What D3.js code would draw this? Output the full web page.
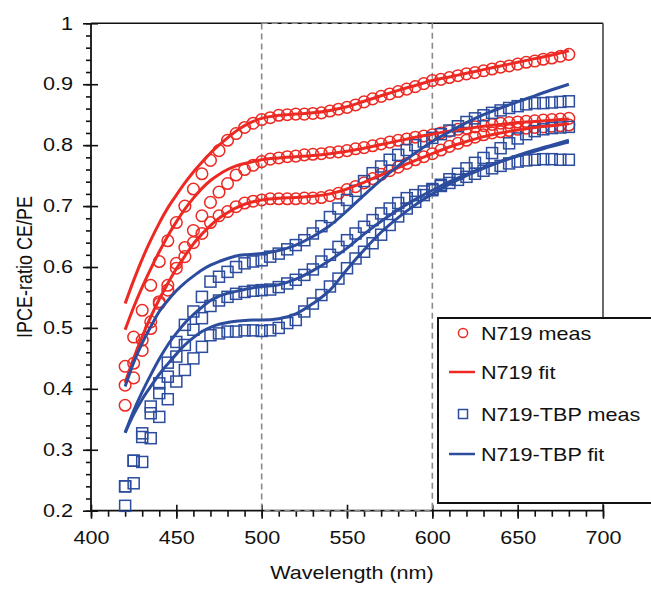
<!DOCTYPE html>
<html lang="en">
  <head>
    <meta charset="UTF-8" />
    <title>IPCE ratio</title>
    <script src="https://cdnjs.cloudflare.com/ajax/libs/d3/7.8.5/d3.min.js"></script>
    <style>
      body {
        margin: 0;
        background: #fff;
      }
      text {
        font-family: "Liberation Sans", Arial, sans-serif;
        fill: #111;
      }
      .axis path {
        display: none;
      }
      .axis line {
        stroke: #111;
        stroke-width: 1.6;
      }
    </style>
  </head>
  <body>
    <div id="chart"></div>
    <script>
      // measured points, every 5 nm from 420 to 680
      const wlMeas = d3.range(420, 681, 5);
      const n719MeasA = [
        0.437, 0.485, 0.529, 0.57, 0.609, 0.643, 0.673, 0.7, 0.728, 0.753,
        0.775, 0.791, 0.808, 0.819, 0.829, 0.836, 0.842, 0.845, 0.849, 0.85,
        0.851, 0.851, 0.852, 0.853, 0.856, 0.859, 0.862, 0.866, 0.871, 0.876,
        0.88, 0.884, 0.888, 0.892, 0.896, 0.901, 0.906, 0.908, 0.911, 0.914,
        0.917, 0.919, 0.922, 0.925, 0.928, 0.93, 0.933, 0.936, 0.938, 0.941,
        0.943, 0.946, 0.949,
      ];
      const n719MeasB = [
        0.406, 0.442, 0.48, 0.51, 0.543, 0.57, 0.606, 0.632, 0.66, 0.684,
        0.706, 0.723, 0.737, 0.751, 0.76, 0.767, 0.773, 0.777, 0.779, 0.781,
        0.782, 0.784, 0.785, 0.786, 0.788, 0.789, 0.791, 0.794, 0.796, 0.799,
        0.802, 0.805, 0.808, 0.81, 0.813, 0.815, 0.817, 0.82, 0.823, 0.826,
        0.828, 0.83, 0.832, 0.834, 0.836, 0.837, 0.838, 0.839, 0.84, 0.841,
        0.842, 0.843, 0.844,
      ];
      const n719MeasC = [
        0.373, 0.418, 0.463, 0.499, 0.54, 0.562, 0.598, 0.617, 0.64, 0.655,
        0.673, 0.684, 0.691, 0.699, 0.705, 0.708, 0.71, 0.712, 0.712, 0.712,
        0.712, 0.713, 0.713, 0.714, 0.717, 0.721, 0.727, 0.732, 0.738, 0.745,
        0.752, 0.758, 0.764, 0.77, 0.776, 0.781, 0.786, 0.792, 0.798, 0.803,
        0.808, 0.813, 0.817, 0.82, 0.822, 0.824, 0.826, 0.828, 0.829, 0.83,
        0.831, 0.832, 0.833,
      ];
      const tbpMeasA = [
        0.24, 0.282, 0.327, 0.371, 0.409, 0.443, 0.477, 0.505, 0.527, 0.551,
        0.576, 0.584, 0.592, 0.6, 0.606, 0.609, 0.611, 0.617, 0.622, 0.629,
        0.636, 0.644, 0.655, 0.667, 0.682, 0.696, 0.71, 0.725, 0.741, 0.754,
        0.765, 0.776, 0.784, 0.792, 0.8, 0.806, 0.812, 0.818, 0.824, 0.831,
        0.838, 0.844, 0.849, 0.853, 0.857, 0.861, 0.864, 0.867, 0.869, 0.869,
        0.87, 0.871, 0.872,
      ];
      const tbpMeasB = [
        0.24, 0.282, 0.321, 0.36, 0.393, 0.42, 0.453, 0.472, 0.497, 0.516,
        0.536, 0.545, 0.551, 0.556, 0.559, 0.561, 0.562, 0.563, 0.567, 0.573,
        0.579, 0.587, 0.596, 0.609, 0.62, 0.633, 0.644, 0.655, 0.666, 0.677,
        0.688, 0.696, 0.705, 0.713, 0.718, 0.724, 0.728, 0.733, 0.738, 0.743,
        0.748, 0.753, 0.758, 0.762, 0.766, 0.77, 0.773, 0.775, 0.776, 0.777,
        0.777, 0.776, 0.776,
      ];
      const tbpMeasC = [
        0.208, 0.245, 0.28, 0.319, 0.354, 0.383, 0.412, 0.431, 0.45, 0.469,
        0.488, 0.491, 0.494, 0.494, 0.496, 0.496, 0.495, 0.496, 0.5, 0.508,
        0.513, 0.527, 0.54, 0.554, 0.568, 0.581, 0.598, 0.614, 0.625, 0.639,
        0.653, 0.669, 0.683, 0.696, 0.707, 0.718, 0.726, 0.735, 0.744, 0.753,
        0.762, 0.771, 0.779, 0.787, 0.795, 0.803, 0.811, 0.818, 0.823, 0.826,
        0.828, 0.829, 0.83,
      ];

      // fitted curves: 5 nm steps up to 500, then 10 nm steps
      const wlFit = d3.range(420, 501, 5).concat(d3.range(510, 681, 10));
      const n719FitA = [
        0.54, 0.578, 0.613, 0.644, 0.672, 0.697, 0.718, 0.738, 0.756, 0.772,
        0.787, 0.8, 0.812, 0.823, 0.832, 0.839, 0.844,
        0.849, 0.851, 0.853, 0.857, 0.863, 0.872, 0.881, 0.89, 0.898, 0.906,
        0.912, 0.918, 0.924, 0.93, 0.936, 0.942, 0.948, 0.955,
      ];
      const n719FitB = [
        0.497, 0.534, 0.567, 0.597, 0.625, 0.651, 0.674, 0.695, 0.713, 0.729,
        0.742, 0.752, 0.76, 0.766, 0.77, 0.773, 0.776,
        0.779, 0.781, 0.783, 0.786, 0.79, 0.795, 0.801, 0.807, 0.813, 0.818,
        0.823, 0.827, 0.831, 0.834, 0.837, 0.839, 0.841, 0.843,
      ];
      const n719FitC = [
        0.41, 0.45, 0.486, 0.518, 0.547, 0.573, 0.597, 0.618, 0.638, 0.654,
        0.668, 0.68, 0.689, 0.697, 0.703, 0.707, 0.71,
        0.713, 0.714, 0.716, 0.72, 0.728, 0.739, 0.751, 0.763, 0.775, 0.786,
        0.797, 0.806, 0.814, 0.82, 0.825, 0.829, 0.832, 0.835,
      ];
      const tbpFitA = [
        0.404, 0.443, 0.475, 0.502, 0.527, 0.545, 0.561, 0.574, 0.585, 0.595,
        0.603, 0.609, 0.614, 0.618, 0.62, 0.621, 0.622,
        0.627, 0.636, 0.65, 0.668, 0.692, 0.718, 0.743, 0.766, 0.787, 0.806,
        0.822, 0.837, 0.85, 0.861, 0.871, 0.881, 0.891, 0.9,
      ];
      const tbpFitB = [
        0.328, 0.364, 0.395, 0.423, 0.449, 0.472, 0.491, 0.508, 0.522, 0.534,
        0.545, 0.552, 0.557, 0.56, 0.563, 0.566, 0.568,
        0.571, 0.58, 0.594, 0.611, 0.631, 0.654, 0.675, 0.694, 0.711, 0.726,
        0.74, 0.752, 0.763, 0.773, 0.782, 0.79, 0.798, 0.805,
      ];
      const tbpFitC = [
        0.328, 0.358, 0.383, 0.404, 0.424, 0.441, 0.457, 0.472, 0.484, 0.494,
        0.501, 0.506, 0.509, 0.511, 0.512, 0.513, 0.513,
        0.515, 0.523, 0.54, 0.562, 0.596, 0.628, 0.657, 0.681, 0.702, 0.72,
        0.736, 0.75, 0.762, 0.773, 0.783, 0.792, 0.8, 0.808,
      ];

      const xTicks = [400, 450, 500, 550, 600, 650, 700];
      const yTicks = [0.2, 0.3, 0.4, 0.5, 0.6, 0.7, 0.8, 0.9, 1];
      const legendLabels = ["N719 meas", "N719 fit", "N719-TBP meas", "N719-TBP fit"];

      const red = "#ec2a23";
      const blue = "#2c4c9e";

      const W = 651;
      const H = 589;
      // the source picture is stretched a bit in x, text follows that
      const sx = 1.2;

      const svg = d3
        .select("#chart")
        .append("svg")
        .attr("width", W)
        .attr("height", H);

      const x = d3.scaleLinear().domain([400, 700]).range([91, 603]);
      const y = d3.scaleLinear().domain([0.2, 1]).range([510.7, 23.3]);

      // frame: top + right
      svg
        .append("line")
        .attr("x1", x(400))
        .attr("x2", x(700))
        .attr("y1", y(1))
        .attr("y2", y(1))
        .attr("stroke", "#111")
        .attr("stroke-width", 1.6);
      svg
        .append("line")
        .attr("x1", x(700))
        .attr("x2", x(700))
        .attr("y1", y(1))
        .attr("y2", y(0.2))
        .attr("stroke", "#444")
        .attr("stroke-width", 1.6);

      // minor ticks (outside only)
      svg
        .append("g")
        .attr("class", "axis")
        .attr("transform", `translate(${x(400)},0)`)
        .call(
          d3
            .axisLeft(y)
            .tickValues(d3.range(0.2, 1.001, 0.02))
            .tickSize(5)
            .tickFormat("")
        );
      svg
        .append("g")
        .attr("class", "axis")
        .attr("transform", `translate(0,${y(0.2)})`)
        .call(
          d3
            .axisBottom(x)
            .tickValues(d3.range(400, 701, 10))
            .tickSize(6)
            .tickFormat("")
        );

      // major ticks crossing the axis
      const yAxis = svg
        .append("g")
        .attr("class", "axis")
        .attr("transform", `translate(${x(400)},0)`)
        .call(
          d3
            .axisLeft(y)
            .tickValues(yTicks)
            .tickSize(8)
            .tickFormat(d3.format("~g"))
        );
      yAxis.selectAll(".tick line").attr("x1", 7);
      yAxis
        .selectAll("text")
        .style("font-size", "18px")
        .attr("x", -18 / sx)
        .attr("transform", `scale(${sx},1)`);

      const xAxis = svg
        .append("g")
        .attr("class", "axis")
        .attr("transform", `translate(0,${y(0.2)})`)
        .call(
          d3
            .axisBottom(x)
            .tickValues(xTicks)
            .tickSize(8)
            .tickPadding(13)
            .tickFormat(d3.format("d"))
        );
      xAxis.selectAll(".tick line").attr("y1", -6);
      xAxis
        .selectAll("text")
        .style("font-size", "18px")
        .attr("transform", `scale(${sx},1)`);

      // axis lines
      svg
        .append("line")
        .attr("x1", x(400))
        .attr("x2", x(400))
        .attr("y1", y(1))
        .attr("y2", y(0.2))
        .attr("stroke", "#111")
        .attr("stroke-width", 1.8);
      svg
        .append("line")
        .attr("x1", x(400))
        .attr("x2", x(700))
        .attr("y1", y(0.2))
        .attr("y2", y(0.2))
        .attr("stroke", "#111")
        .attr("stroke-width", 1.8);

      // dashed window 500-600 nm
      svg
        .append("rect")
        .attr("x", x(500))
        .attr("y", y(1))
        .attr("width", x(600) - x(500))
        .attr("height", y(0.2) - y(1))
        .attr("fill", "none")
        .attr("stroke", "#8a8a8a")
        .attr("stroke-width", 1.6)
        .attr("stroke-dasharray", "6,4");

      // axis titles
      svg
        .append("text")
        .attr("transform", `translate(352,579) scale(${sx},1)`)
        .attr("text-anchor", "middle")
        .style("font-size", "18px")
        .text("Wavelength (nm)");
      svg
        .append("text")
        .attr("transform", `translate(32,${y(0.6)}) scale(${sx},1) rotate(-90)`)
        .attr("text-anchor", "middle")
        .style("font-size", "18px")
        .text("IPCE-ratio CE/PE");

      const meas = (vals) => wlMeas.map((w, i) => ({ w, v: vals[i] }));
      const fit = (vals) => wlFit.map((w, i) => ({ w, v: vals[i] }));

      const line = d3
        .line()
        .x((d) => x(d.w))
        .y((d) => y(d.v))
        .curve(d3.curveMonotoneX);

      // red circles
      [n719MeasA, n719MeasB, n719MeasC].forEach((vals) => {
        svg
          .append("g")
          .selectAll("circle")
          .data(meas(vals))
          .join("circle")
          .attr("cx", (d) => x(d.w))
          .attr("cy", (d) => y(d.v))
          .attr("r", 5.8)
          .attr("fill", "none")
          .attr("stroke", red)
          .attr("stroke-width", 1.5);
      });

      // blue squares
      [tbpMeasA, tbpMeasB, tbpMeasC].forEach((vals) => {
        svg
          .append("g")
          .selectAll("rect")
          .data(meas(vals))
          .join("rect")
          .attr("x", (d) => x(d.w) - 5.5)
          .attr("y", (d) => y(d.v) - 5.5)
          .attr("width", 11)
          .attr("height", 11)
          .attr("fill", "none")
          .attr("stroke", blue)
          .attr("stroke-width", 1.5);
      });

      // fits
      [n719FitA, n719FitB, n719FitC].forEach((vals) => {
        svg
          .append("path")
          .datum(fit(vals))
          .attr("d", line)
          .attr("fill", "none")
          .attr("stroke", red)
          .attr("stroke-width", 3);
      });
      [tbpFitA, tbpFitB, tbpFitC].forEach((vals) => {
        svg
          .append("path")
          .datum(fit(vals))
          .attr("d", line)
          .attr("fill", "none")
          .attr("stroke", blue)
          .attr("stroke-width", 3);
      });

      // legend
      const legend = svg.append("g").attr("transform", "translate(438,318)");
      legend
        .append("rect")
        .attr("width", 230)
        .attr("height", 185)
        .attr("fill", "#fff")
        .attr("stroke", "#111")
        .attr("stroke-width", 2);

      const rowY = [15, 54, 96, 136];
      legend
        .append("circle")
        .attr("cx", 25)
        .attr("cy", rowY[0])
        .attr("r", 4.6)
        .attr("fill", "none")
        .attr("stroke", red)
        .attr("stroke-width", 1.5);
      legend
        .append("line")
        .attr("x1", 11)
        .attr("x2", 37)
        .attr("y1", rowY[1])
        .attr("y2", rowY[1])
        .attr("stroke", red)
        .attr("stroke-width", 2.5);
      legend
        .append("rect")
        .attr("x", 20.5)
        .attr("y", rowY[2] - 4.5)
        .attr("width", 9)
        .attr("height", 9)
        .attr("fill", "none")
        .attr("stroke", blue)
        .attr("stroke-width", 1.5);
      legend
        .append("line")
        .attr("x1", 11)
        .attr("x2", 37)
        .attr("y1", rowY[3])
        .attr("y2", rowY[3])
        .attr("stroke", blue)
        .attr("stroke-width", 2.5);

      legend
        .selectAll(".legend-label")
        .data(legendLabels)
        .join("text")
        .attr("class", "legend-label")
        .attr("transform", (d, i) => `translate(43,${rowY[i] + 6.5}) scale(${sx},1)`)
        .style("font-size", "18px")
        .text((d) => d);
    </script>
  </body>
</html>
